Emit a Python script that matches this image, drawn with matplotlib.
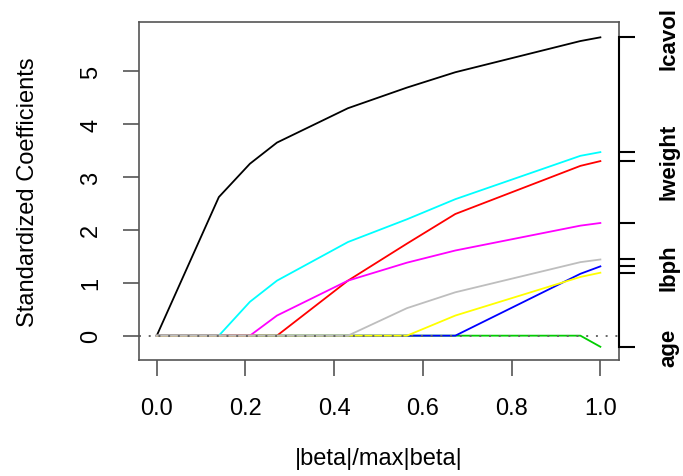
import matplotlib

matplotlib.use("Agg")
import matplotlib.pyplot as plt

plt.rcParams["font.family"] = ["Liberation Sans", "DejaVu Sans"]

# lasso path: fraction |beta|/max|beta| at each step
frac = [0.0, 0.14, 0.21, 0.271, 0.431, 0.564, 0.673, 0.955, 1.0]

lcavol = [0, 2.62, 3.25, 3.65, 4.30, 4.69, 4.98, 5.57, 5.64]
lweight = [0, 0, 0, 0, 1.04, 1.74, 2.30, 3.21, 3.30]
age = [0, 0, 0, 0, 0, 0, 0, 0, -0.21]
lbph = [0, 0, 0, 0, 0, 0, 0, 1.17, 1.31]
svi = [0, 0, 0.64, 1.04, 1.77, 2.20, 2.58, 3.40, 3.47]
lcp = [0, 0, 0, 0.38, 1.04, 1.38, 1.61, 2.08, 2.13]
gleason = [0, 0, 0, 0, 0, 0, 0.38, 1.11, 1.19]
pgg45 = [0, 0, 0, 0, 0, 0.52, 0.82, 1.39, 1.44]

names = ["lcavol", "lweight", "age", "lbph", "svi", "lcp", "gleason", "pgg45"]
series = [lcavol, lweight, age, lbph, svi, lcp, gleason, pgg45]
colors = ["black", "#FF0000", "#00CD00", "#0000FF", "#00FFFF", "#FF00FF", "#FFFF00", "#BEBEBE"]
# R's axis() drops labels that would overlap
shown = {"lcavol", "lweight", "age", "lbph"}

fig = plt.figure(figsize=(6.83, 4.77), dpi=100)
ax = fig.add_axes([0.2035, 0.2432, 0.7028, 0.7086])

for vals, col in zip(series, colors):
    ax.plot(frac, vals, color=col, linewidth=1.3)
ax.axhline(0, color="#666666", linestyle=(0, (1, 4)), linewidth=1.4)

ax.set_xlim(-0.04, 1.042)
ax.set_ylim(-0.46, 5.93)
ax.set_xticks([0.0, 0.2, 0.4, 0.6, 0.8, 1.0])
ax.set_xticklabels(["0.0", "0.2", "0.4", "0.6", "0.8", "1.0"])
ax.set_yticks(range(0, 6))
for lab in ax.get_yticklabels():
    lab.set_rotation(90)
    lab.set_va("center")
ax.tick_params(axis="both", labelsize=17, length=11.5, width=1.2, color="#555555", pad=15)
for sp in ax.spines.values():
    sp.set_color("#555555")
    sp.set_linewidth(1.2)
ax.set_xlabel("|beta|/max|beta|", fontsize=17, labelpad=20)
ax.set_ylabel("Standardized Coefficients", fontsize=17, labelpad=30)

# right-hand axis with variable names at the final coefficients
ends = [s[-1] for s in series]
ax2 = ax.twinx()
ax2.set_ylim(ax.get_ylim())
ax2.set_yticks(ends)
ax2.set_yticklabels([n if n in shown else "" for n in names], rotation=90,
                    va="center", fontsize=16, fontweight="bold")
ax2.tick_params(axis="y", length=11.5, width=1.5, color="black", pad=17)
ax2.spines["right"].set_bounds(min(ends), max(ends))
ax2.spines["right"].set_color("black")
ax2.spines["right"].set_linewidth(1.5)
for side in ["left", "top", "bottom"]:
    ax2.spines[side].set_visible(False)

fig.savefig("out.png", dpi=100)
